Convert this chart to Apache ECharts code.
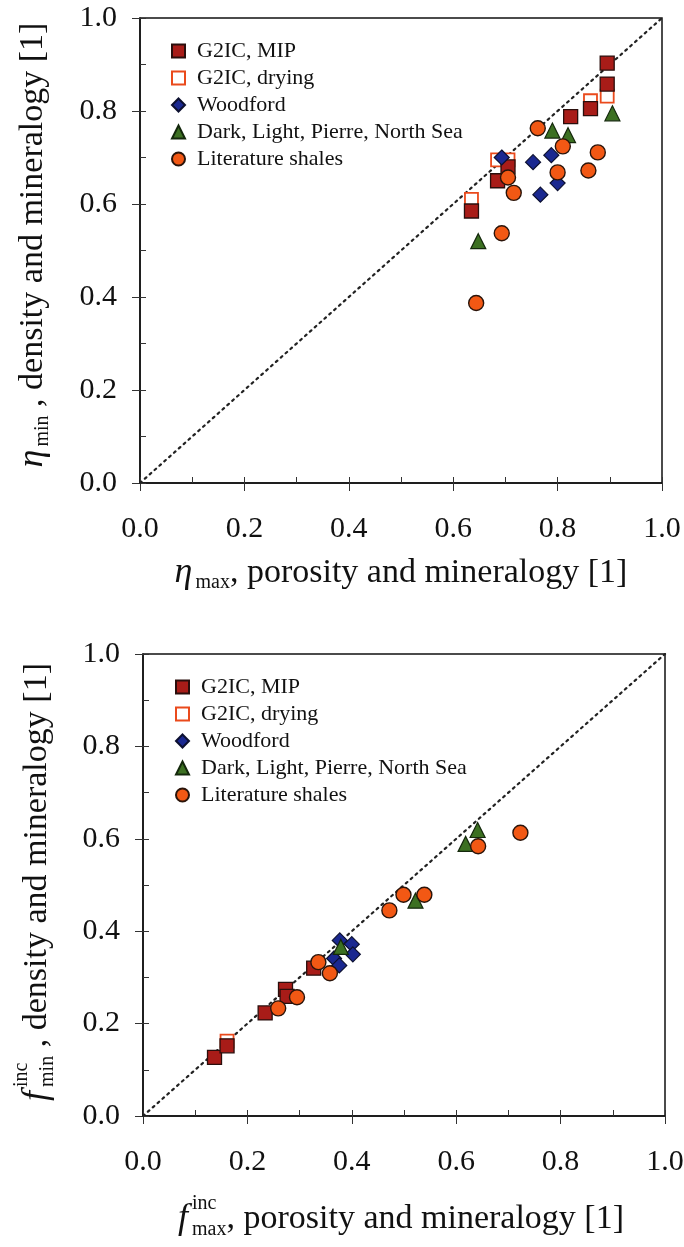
<!DOCTYPE html>
<html>
<head>
<meta charset="utf-8">
<script src="https://cdn.jsdelivr.net/npm/echarts@6/dist/echarts.min.js"></script>
<style>
html,body{margin:0;padding:0;background:#fff;}
#chart{width:684px;height:1247px;}
</style>
</head>
<body>
<div id="chart"></div>
<script>
// ---- data ----
var seriesNames = ['G2IC, MIP', 'G2IC, drying', 'Woodford', 'Dark, Light, Pierre, North Sea', 'Literature shales'];
var tickLabels = ['0.0', '0.2', '0.4', '0.6', '0.8', '1.0'];
var diagonal = [[0, 0], [1, 1]];

// top panel: eta_max (x) vs eta_min (y)
var mipEta = [[0.635, 0.585], [0.685, 0.65], [0.705, 0.68], [0.825, 0.788], [0.863, 0.805], [0.895, 0.858], [0.895, 0.903]];
var dryEta = [[0.635, 0.61], [0.685, 0.695], [0.705, 0.695], [0.863, 0.822], [0.895, 0.832]];
var woodEta = [[0.693, 0.70], [0.753, 0.69], [0.788, 0.705], [0.767, 0.62], [0.80, 0.645]];
var darkEta = [[0.648, 0.52], [0.79, 0.758], [0.82, 0.748], [0.905, 0.795]];
var litEta = [[0.644, 0.387], [0.693, 0.537], [0.705, 0.657], [0.716, 0.624], [0.762, 0.763], [0.81, 0.724], [0.80, 0.668], [0.859, 0.672], [0.877, 0.711]];

// bottom panel: f_max^inc (x) vs f_min^inc (y)
var mipF = [[0.137, 0.127], [0.161, 0.152], [0.234, 0.223], [0.273, 0.274], [0.276, 0.259], [0.327, 0.32]];
var dryF = [[0.161, 0.162]];
var woodF = [[0.377, 0.38], [0.40, 0.372], [0.402, 0.35], [0.366, 0.341], [0.376, 0.326]];
var darkF = [[0.379, 0.366], [0.522, 0.466], [0.618, 0.589], [0.641, 0.619]];
var litF = [[0.259, 0.233], [0.295, 0.257], [0.336, 0.333], [0.358, 0.309], [0.472, 0.445], [0.499, 0.479], [0.539, 0.479], [0.642, 0.584], [0.723, 0.613]];

// ---- styling ----
var FONT = '"Liberation Serif", "Times New Roman", serif';
var styles = [
  {symbol: 'rect', size: 14, item: {color: '#a81c18', borderColor: '#2a0e0c', borderWidth: 1.3, opacity: 1}, z: 3},
  {symbol: 'rect', size: 13, item: {color: '#ffffff', borderColor: '#ea4a1c', borderWidth: 1.8, opacity: 1}, z: 2},
  {symbol: 'diamond', size: 15, item: {color: '#1a2890', borderColor: '#0c1030', borderWidth: 1.2, opacity: 1}, z: 4},
  {symbol: 'triangle', size: 15, item: {color: '#3c7022', borderColor: '#14280c', borderWidth: 1.2, opacity: 1}, z: 5},
  {symbol: 'circle', size: 15, item: {color: '#f25814', borderColor: '#2a140a', borderWidth: 1.4, opacity: 1}, z: 6}
];
var panels = [
  [mipEta, dryEta, woodEta, darkEta, litEta],
  [mipF, dryF, woodF, darkF, litF]
];
var grids = [
  {left: 140, top: 18, width: 522, height: 465},
  {left: 143, top: 654, width: 522, height: 462}
];

function labelFmt(v) {
  var k = Math.round(v * 10);
  return (k % 2 === 0) ? tickLabels[k / 2] : '';
}

var xAxes = [], yAxes = [], series = [];
grids.forEach(function (g, gi) {
  g.show = true; g.borderColor = '#111'; g.borderWidth = 1.5;
  g.containLabel = false; g.outerBoundsMode = 'none';
  var base = {
    type: 'value', gridIndex: gi, min: 0, max: 1, interval: 0.1,
    splitLine: {show: false},
    axisLine: {onZero: false, lineStyle: {color: '#111', width: 1.5}},
    axisTick: {inside: true, length: 6, lineStyle: {color: '#333', width: 1}},
    axisLabel: {fontFamily: FONT, fontSize: 30, color: '#111', formatter: labelFmt}
  };
  var major = {
    type: 'value', gridIndex: gi, min: 0, max: 1, interval: 0.2,
    splitLine: {show: false}, axisLine: {show: false, onZero: false},
    axisTick: {inside: false, length: 8, lineStyle: {color: '#333', width: 1}},
    axisLabel: {show: false}
  };
  xAxes.push(Object.assign({}, base, {position: 'bottom', axisLabel: Object.assign({}, base.axisLabel, {margin: 31})}));
  xAxes.push(Object.assign({}, major, {position: 'bottom'}));
  yAxes.push(Object.assign({}, base, {position: 'left', axisLabel: Object.assign({}, base.axisLabel, {margin: 23})}));
  yAxes.push(Object.assign({}, major, {position: 'left'}));

  series.push({
    type: 'line', xAxisIndex: gi * 2, yAxisIndex: gi * 2, data: diagonal,
    showSymbol: false, silent: true, z: 1,
    lineStyle: {color: '#222', width: 2.2, type: [2, 4.5], cap: 'round'}
  });
  panels[gi].forEach(function (d, si) {
    var s = styles[si];
    series.push({
      name: seriesNames[si], type: 'scatter', xAxisIndex: gi * 2, yAxisIndex: gi * 2,
      data: d, symbol: s.symbol, symbolSize: s.size, itemStyle: s.item, z: s.z
    });
  });
});

// ---- axis titles built from text pieces ----
var mctx = document.createElement('canvas').getContext('2d');
function measure(p) {
  mctx.font = (p.it ? 'italic ' : '') + p.fs + 'px "Liberation Serif"';
  return mctx.measureText(p.t).width;
}
function buildTitle(parts, cx, cy, rot) {
  var x = 0, kids = [];
  parts.forEach(function (p) {
    var w = measure(p);
    kids.push({
      type: 'text', x: x + (p.dx || 0), y: p.dy || 0,
      style: {text: p.t, fontFamily: FONT, fontSize: p.fs, fontStyle: p.it ? 'italic' : 'normal',
        fill: '#111', align: 'left', verticalAlign: 'middle'}
    });
    if (!p.stack) x += w + (p.dx || 0);
  });
  kids.forEach(function (k) { k.x -= x / 2; });
  return {type: 'group', x: cx, y: cy, rotation: rot, silent: true, children: kids};
}
var TS = 34, SS = 20;
var graphics = [
  buildTitle([{t: 'η', fs: TS + 2, it: true}, {t: 'max', fs: SS, dy: 10, dx: 3}, {t: ', porosity and mineralogy [1]', fs: TS}], 401, 573, 0),
  buildTitle([{t: 'η', fs: TS + 2, it: true}, {t: 'min', fs: SS, dy: 10, dx: 3}, {t: ' , density and mineralogy [1]', fs: TS}], 33, 245, Math.PI / 2),
  buildTitle([{t: 'f', fs: TS + 2, it: true}, {t: 'inc', fs: SS, dy: -15, dx: 4, stack: true}, {t: 'max', fs: SS, dy: 11, dx: 4}, {t: ', porosity and mineralogy [1]', fs: TS}], 401, 1219, 0),
  buildTitle([{t: 'f', fs: TS + 2, it: true}, {t: 'inc', fs: SS, dy: -15, dx: 4, stack: true}, {t: 'min', fs: SS, dy: 11, dx: 4}, {t: ' , density and mineralogy [1]', fs: TS}], 37, 882, Math.PI / 2)
];

function mkLegend(left, top) {
  return {
    orient: 'vertical', left: left, top: top, itemWidth: 13, itemHeight: 13, itemGap: 5,
    data: seriesNames, selectedMode: false,
    textStyle: {fontFamily: FONT, fontSize: 22, color: '#111', padding: [0, 0, 0, 7]}
  };
}

var chart = echarts.init(document.getElementById('chart'), null, {renderer: 'canvas'});
chart.setOption({
  backgroundColor: '#fff',
  animation: false,
  grid: grids,
  xAxis: xAxes,
  yAxis: yAxes,
  legend: [mkLegend(166, 35), mkLegend(170, 671)],
  series: series,
  graphic: graphics
});
</script>
</body>
</html>
